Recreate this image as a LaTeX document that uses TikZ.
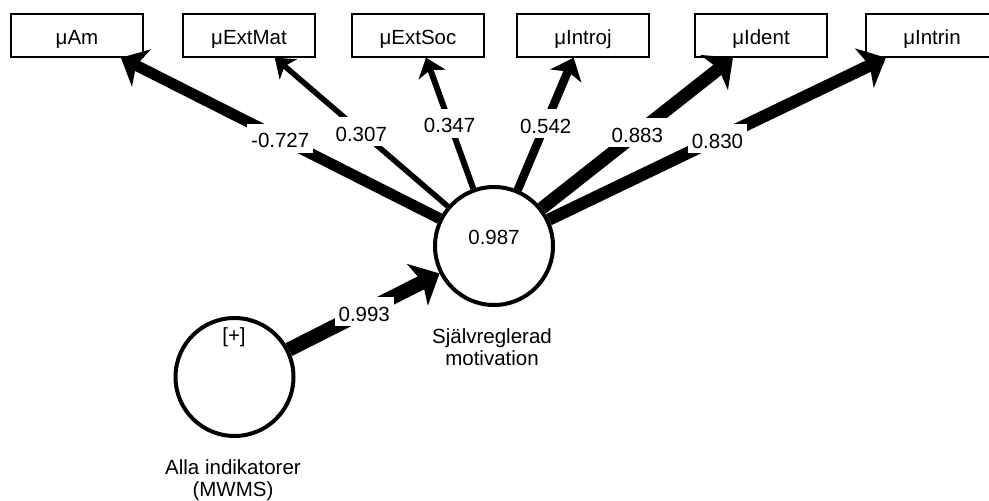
\documentclass[tikz,border=0pt]{standalone}
\usepackage{fontspec}
\setmainfont{Liberation Sans}
\usetikzlibrary{arrows.meta}
\begin{document}
\begin{tikzpicture}[x=1pt,y=-1pt,
  every node/.style={font=\fontsize{20.5}{22}\selectfont},
  ind/.style={draw, line width=1.4pt, fill=white, minimum width=132pt, minimum height=43pt, inner sep=0pt, text height=17pt, text depth=0pt},
  lv/.style={draw, circle, line width=4pt, fill=white, minimum size=118pt, inner sep=0pt},
  lab/.style={fill=white, inner xsep=4pt, inner ysep=2pt, text height=22pt, text depth=3pt},
  conn/.style n args={4}{line width=#1pt, -{Stealth[length=#2pt, width=#3pt, inset=#4pt, line width=0pt]}}
]
\clip (0,0) rectangle (989,501);
\fill[white] (0,0) rectangle (989,501);
% indicators
\node[ind] (am) at (77,35.5) {μAm};
\node[ind] (extmat) at (249,35.5) {μExtMat};
\node[ind] (extsoc) at (418,35.5) {μExtSoc};
\node[ind] (introj) at (583,35.5) {μIntroj};
\node[ind] (ident) at (761,35.5) {μIdent};
\node[ind] (intrin) at (932,35.5) {μIntrin};
% latent variables
\node[lv] (srm) at (494,246) {};
\node[lv] (mwms) at (234.5,377) {};
\node[text height=15pt, text depth=0pt] (r2) at (494,237) {0.987};
\node (plus) at (234,337) {[+]};
\node[align=center, anchor=base] (srmname) at (492,365) {Självreglerad\\motivation};
\node[align=center, anchor=base] (mwmsname) at (233,496) {Alla indikatorer\\(MWMS)};
% connectors
\draw[conn={11}{23}{42}{6}] (srm) -- node[lab] (l1) {-0.727} (am);
\draw[conn={5.5}{18}{27}{5}] (srm) -- node[lab] (l2) {0.307} (extmat);
\draw[conn={6}{18}{29}{5}] (srm) -- node[lab] (l3) {0.347} (extsoc);
\draw[conn={8.5}{20}{34}{5}] (srm) -- node[lab] (l4) {0.542} (introj);
\draw[conn={13}{24}{45}{6}] (srm) -- node[lab] (l5) {0.883} (ident);
\draw[conn={12.3}{24}{44}{6}] (srm) -- node[lab] (l6) {0.830} (intrin);
\draw[conn={14.4}{25}{47}{6}] (mwms) -- node[lab] (l7) {0.993} (srm);
\end{tikzpicture}
\end{document}
